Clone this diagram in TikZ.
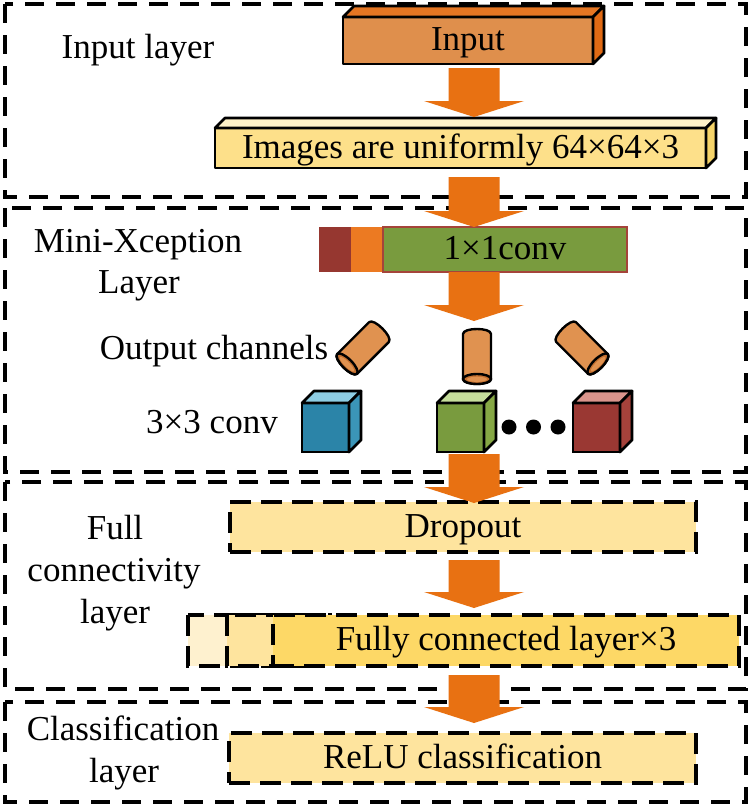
\documentclass[tikz,border=0pt]{standalone}
\usepackage{fontspec}
\setmainfont{Liberation Serif}
\usetikzlibrary{calc}
\definecolor{arrcol}{RGB}{232,113,18}
\definecolor{inputfront}{RGB}{223,143,76}
\definecolor{inputtop}{RGB}{229,118,35}
\definecolor{inputside}{RGB}{225,106,20}
\definecolor{imgfront}{RGB}{253,224,138}
\definecolor{imgtop}{RGB}{255,242,200}
\definecolor{imgside}{RGB}{246,212,105}
\definecolor{barred}{RGB}{150,55,48}
\definecolor{barorange}{RGB}{236,122,34}
\definecolor{bargreen}{RGB}{121,155,62}
\definecolor{barborder}{RGB}{165,68,58}
\definecolor{cylcol}{RGB}{224,146,80}
\definecolor{cyldark}{RGB}{196,112,48}
\definecolor{bluefront}{RGB}{43,132,168}
\definecolor{bluetop}{RGB}{142,205,227}
\definecolor{blueside}{RGB}{59,149,184}
\definecolor{greenfront}{RGB}{121,155,62}
\definecolor{greentop}{RGB}{198,222,156}
\definecolor{greenside}{RGB}{134,168,69}
\definecolor{redfront}{RGB}{154,56,51}
\definecolor{redtop}{RGB}{218,148,140}
\definecolor{redside}{RGB}{165,66,59}
\definecolor{dropfill}{RGB}{254,228,158}
\definecolor{fcone}{RGB}{254,241,207}
\definecolor{fctwo}{RGB}{254,228,158}
\definecolor{fcthree}{RGB}{253,216,102}
\tikzset{
  layerbox/.style={draw, line width=3.2pt, dash pattern=on 19pt off 12pt},
  dbox/.style={draw, line width=3.2pt, dash pattern=on 21pt off 10pt, inner sep=0pt, outer sep=0pt, text height=24pt, text depth=4pt},
  frontface/.style={draw, line width=2.7pt, inner sep=0pt, outer sep=0pt, text height=24pt, text depth=4pt, line join=round},
  sideface/.style={draw, line width=2.7pt, line join=round},
  lbl/.style={anchor=base, inner sep=0pt, outer sep=0pt},
  cylbody/.style={draw, line width=2.4pt, fill=cylcol, line join=round},
  cubefront/.style={draw, line width=2.7pt, inner sep=0pt, outer sep=0pt, minimum width=47pt, minimum height=49pt, anchor=north west},
}
\newcommand{\blockarr}[3]{%
  \fill[arrcol] (#1-25.5,#2) -- (#1+25.5,#2) -- (#1+25.5,#3-16) -- (#1+50,#3-16) -- (#1,#3) -- (#1-50,#3-16) -- (#1-25.5,#3-16) -- cycle;}
\newcommand{\cubefaces}[3]{%
  \draw[sideface, fill=#2] (#1.north west) -- ++(12,-12) -- ($(#1.north east)+(12,-12)$) -- (#1.north east) -- cycle;
  \draw[sideface, fill=#3] (#1.north east) -- ++(12,-12) -- ($(#1.south east)+(12,-12)$) -- (#1.south east) -- cycle;}
\newcommand{\cylinder}[3]{%
  \begin{scope}[shift={(#1,#2)}, rotate=#3]
    \draw[cylbody] (-14,-22.5) -- (-14,22.5) .. controls (-14,29.17) and (14,29.17) .. (14,22.5) -- (14,-22.5) .. controls (14,-29.17) and (-14,-29.17) .. cycle;
    \draw[line width=2.4pt, fill=cyldark] (0,22.5) ellipse [x radius=14, y radius=5];
    \fill[cylcol] (0,22.8) ellipse [x radius=10, y radius=2.6];
  \end{scope}}
\begin{document}
\begin{tikzpicture}[x=1pt, y=-1pt, font=\fontsize{35}{42}\selectfont]
\useasboundingbox (0,0) rectangle (750,806);
\fill[white] (0,0) rectangle (750,806);

% layer frames
\draw[layerbox] (5,4) rectangle (746,197);
\draw[layerbox] (5,208) rectangle (746,472);
\draw[layerbox] (5,482) rectangle (746,689);
\draw[layerbox] (5,702) rectangle (746,802);

% layer labels
\node[lbl] (tin) at (138,58) {Input layer};
\node[lbl] (tmini1) at (138,252) {Mini-Xception};
\node[lbl] (tmini2) at (139,293) {Layer};
\node[lbl] (tout) at (214,359) {Output channels};
\node[lbl] (tconv) at (212,433) {3×3 conv};
\node[lbl] (tfull1) at (115,539) {Full};
\node[lbl] (tfull2) at (114,581) {connectivity};
\node[lbl] (tfull3) at (115,623) {layer};
\node[lbl] (tcls1) at (123,740) {Classification};
\node[lbl] (tcls2) at (124,782) {layer};

% input block
\node[frontface, fill=inputfront, minimum width=250pt, minimum height=47pt] (input) at (468,40.5) {Input};
\draw[sideface, fill=inputtop] (input.north west) -- ++(11,-11) -- ($(input.north east)+(11,-11)$) -- (input.north east) -- cycle;
\draw[sideface, fill=inputside] (input.north east) -- ++(11,-11) -- ($(input.south east)+(11,-11)$) -- (input.south east) -- cycle;

% images block
\node[frontface, fill=imgfront, minimum width=491pt, minimum height=40pt] (images) at (460.5,148) {Images are uniformly 64×64×3};
\draw[sideface, fill=imgtop] (images.north west) -- ++(10,-10) -- ($(images.north east)+(10,-10)$) -- (images.north east) -- cycle;
\draw[sideface, fill=imgside] (images.north east) -- ++(10,-10) -- ($(images.south east)+(10,-10)$) -- (images.south east) -- cycle;

% 1x1 conv bar
\fill[barred] (319,227) rectangle (353,272);
\fill[barorange] (351,227) rectangle (385,272);
\node[draw=barborder, line width=1.8pt, fill=bargreen, inner sep=0pt, outer sep=0pt, minimum width=244pt, minimum height=45pt, text height=24pt, text depth=4pt] (conv) at (505,249.5) {1×1conv};

% output channels
\cylinder{363}{348}{-45}
\cylinder{477}{356.5}{0}
\cylinder{582}{348}{45}

% 3x3 conv cubes
\node[cubefront, fill=bluefront] (cubeA) at (302,403) {};
\cubefaces{cubeA}{bluetop}{blueside}
\node[cubefront, fill=greenfront] (cubeB) at (437,403) {};
\cubefaces{cubeB}{greentop}{greenside}
\node[cubefront, fill=redfront] (cubeC) at (573,403) {};
\cubefaces{cubeC}{redtop}{redside}
\fill (509,427) circle (7.5);
\fill (533.5,427) circle (7.5);
\fill (558,427) circle (7.5);

% dropout
\node[dbox, fill=dropfill, minimum width=466pt, minimum height=50pt] (dropout) at (463,527) {Dropout};

% fully connected
\draw[dbox, fill=fcone] (188,615) rectangle (300,666);
\draw[dbox, fill=fctwo] (227,615) rectangle (330,666);
\node[dbox, fill=fcthree, minimum width=466pt, minimum height=51pt] (fc) at (506,640.5) {Fully connected layer×3};

% relu
\node[dbox, fill=dropfill, minimum width=467pt, minimum height=50pt] (relu) at (462.5,758) {ReLU classification};

% block arrows
\blockarr{474}{68}{117}
\blockarr{474}{177}{227}
\blockarr{474}{272}{321}
\blockarr{474}{454}{503}
\blockarr{474}{560}{608}
\blockarr{474}{675}{723}
\end{tikzpicture}
\end{document}
